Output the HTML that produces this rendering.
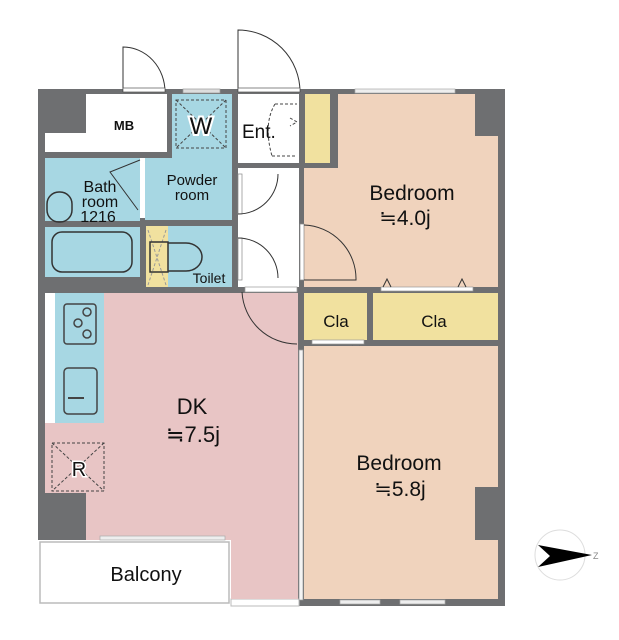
<!DOCTYPE html>
<html><head><meta charset="utf-8"><style>
html,body{margin:0;padding:0;background:#fff}
svg{display:block}
text{font-family:"Liberation Sans",sans-serif;fill:#111}
</style></head><body>
<svg width="619" height="640" viewBox="0 0 619 640" xmlns="http://www.w3.org/2000/svg">
<rect x="38" y="89" width="467" height="517" fill="#6e6f71"/>
<rect x="38" y="540" width="193" height="67" fill="#fff"/>
<rect x="40" y="542" width="189" height="61" fill="#fff" stroke="#bbb" stroke-width="1.5"/>
<rect x="231" y="599" width="68" height="7" fill="#fff" stroke="#bbb"/>
<!-- MB -->
<path d="M86 94 H167 V152 H45 V133 H86 Z" fill="#fff"/>
<text x="124" y="130" font-size="13" text-anchor="middle" font-weight="bold">MB</text>
<!-- powder room -->
<path d="M172 94 H232 V220 H145 V158 H172 Z" fill="#a7d7e3"/>
<rect x="176" y="100" width="50" height="48" fill="none" stroke="#444" stroke-dasharray="3,2"/>
<line x1="176" y1="100" x2="226" y2="148" stroke="#444" stroke-dasharray="3,2"/>
<line x1="226" y1="100" x2="176" y2="148" stroke="#444" stroke-dasharray="3,2"/>
<text x="201" y="134" font-size="24" text-anchor="middle" stroke="#fff" stroke-width="4" paint-order="stroke">W</text>
<text x="192" y="185" font-size="15" text-anchor="middle">Powder</text>
<text x="192" y="200" font-size="15" text-anchor="middle">room</text>
<!-- bath -->
<rect x="45" y="158" width="95" height="63" fill="#a7d7e3"/>
<rect x="45" y="227" width="95" height="50" fill="#a7d7e3"/>
<rect x="52" y="232" width="80" height="40" rx="10" fill="none" stroke="#333" stroke-width="1.5"/>
<rect x="47" y="192" width="25" height="30" rx="12" fill="none" stroke="#333" stroke-width="1.5"/>
<rect x="140" y="158" width="5" height="60" fill="#fff"/>
<path d="M140 160 L110 172 L138 210" fill="none" stroke="#333"/>
<text x="100" y="192" font-size="16" text-anchor="middle">Bath</text>
<text x="100" y="207" font-size="16" text-anchor="middle">room</text>
<text x="98" y="222" font-size="16" text-anchor="middle">1216</text>
<!-- toilet -->
<rect x="146" y="226" width="86" height="61" fill="#a7d7e3"/>
<rect x="146" y="226" width="22" height="61" fill="#f1e19f"/>
<path d="M148 230 L166 285 M166 230 L148 285" stroke="#999" stroke-dasharray="3,2"/>
<path d="M150 242 h18 v30 h-18 z M168 243 h18 a16 14 0 0 1 0 28 h-18" fill="none" stroke="#333" stroke-width="1.5"/>
<text x="209" y="283" font-size="14" text-anchor="middle">Toilet</text>
<!-- entry / hall -->
<rect x="238" y="94" width="61" height="69" fill="#fff"/>
<rect x="238" y="168" width="61" height="119" fill="#fff"/>
<path d="M275 104 q-12 20 -3 52 M275 104 h22 M272 156 h25 M290 118 l7 4 l-7 4" fill="none" stroke="#444" stroke-dasharray="3,2"/>
<text x="242" y="138" font-size="19">Ent.</text>
<rect x="238" y="174" width="4" height="40" fill="#fff" stroke="#888" stroke-width="0.7"/>
<path d="M238 214 a40 40 0 0 0 40 -40" fill="none" stroke="#333"/>
<rect x="238" y="238" width="4" height="42" fill="#fff" stroke="#888" stroke-width="0.7"/>
<path d="M238 238 a40 40 0 0 1 40 40" fill="none" stroke="#333"/>
<rect x="305" y="94" width="25" height="69" fill="#f1e19f"/>
<!-- bedroom 1 -->
<path d="M338 94 H475 V136 H498 V287 H304 V168 H338 Z" fill="#f0d3bd"/>
<rect x="300" y="224" width="4" height="56" fill="#fff" stroke="#888" stroke-width="0.7"/>
<path d="M304 225 a54 54 0 0 1 52 55 H304" fill="none" stroke="#333"/>
<rect x="355" y="89" width="100" height="4" fill="#eee" stroke="#aaa" stroke-width="0.7"/>
<text x="412" y="200" font-size="21" text-anchor="middle">Bedroom</text>
<text x="405" y="225" font-size="21" text-anchor="middle">≒4.0j</text>
<!-- closets -->
<rect x="304" y="293" width="63" height="47" fill="#f1e19f"/>
<rect x="373" y="293" width="125" height="47" fill="#f1e19f"/>
<rect x="381" y="287" width="92" height="4" fill="#fff" stroke="#999" stroke-width="0.7"/>
<path d="M383 287 l4 -8 l4 8 M458 287 l4 -8 l4 8" fill="none" stroke="#333"/>
<rect x="312" y="340" width="52" height="4" fill="#fff" stroke="#999" stroke-width="0.7"/>
<path d="M352 346 l4 8 l4 -8" fill="none" stroke="#333"/>
<text x="336" y="327" font-size="17" text-anchor="middle">Cla</text>
<text x="434" y="327" font-size="17" text-anchor="middle">Cla</text>
<!-- bedroom 2 -->
<path d="M304 346 H498 V487 H475 V540 H498 V599 H304 Z" fill="#f0d3bd"/>
<text x="399" y="470" font-size="21" text-anchor="middle">Bedroom</text>
<text x="400" y="496" font-size="21" text-anchor="middle">≒5.8j</text>
<rect x="340" y="600" width="40" height="4" fill="#eee" stroke="#aaa" stroke-width="0.7"/>
<rect x="400" y="600" width="45" height="4" fill="#eee" stroke="#aaa" stroke-width="0.7"/>
<!-- DK -->
<path d="M45 293 H298 V599 H231 V540 H86 V493 H45 Z" fill="#e8c5c5"/>
<rect x="45" y="293" width="10" height="130" fill="#fff"/>
<rect x="55" y="293" width="49" height="130" fill="#a7d7e3"/>
<rect x="64" y="304" width="32" height="40" rx="3" fill="none" stroke="#444" stroke-width="1.5"/>
<circle cx="87" cy="312" r="4" fill="none" stroke="#444" stroke-width="1.5"/>
<circle cx="78" cy="323" r="4" fill="none" stroke="#444" stroke-width="1.5"/>
<circle cx="87" cy="334" r="4" fill="none" stroke="#444" stroke-width="1.5"/>
<rect x="64" y="368" width="33" height="46" rx="4" fill="none" stroke="#444" stroke-width="1.5"/>
<line x1="68" y1="398" x2="84" y2="398" stroke="#444" stroke-width="2"/>
<rect x="52" y="443" width="52" height="48" fill="none" stroke="#444" stroke-dasharray="3,2"/>
<path d="M52 443 L104 491 M104 443 L52 491" stroke="#444" stroke-dasharray="3,2"/>
<text x="79" y="476" font-size="20" text-anchor="middle" stroke="#fff" stroke-width="3" paint-order="stroke">R</text>
<rect x="245" y="287" width="52" height="5" fill="#fff" stroke="#999" stroke-width="0.7"/>
<path d="M242 292 a55 55 0 0 0 55 52" fill="none" stroke="#333"/>
<rect x="299" y="350" width="4" height="250" fill="#f4f4f4" stroke="#999" stroke-width="0.7"/>
<rect x="100" y="536" width="125" height="4" fill="#eee" stroke="#aaa" stroke-width="0.7"/>
<text x="192" y="414" font-size="22" text-anchor="middle">DK</text>
<text x="193" y="442" font-size="22" text-anchor="middle">≒7.5j</text>
<text x="146" y="581" font-size="20" text-anchor="middle">Balcony</text>
<!-- top doors -->
<path d="M123 92 V47 a42 45 0 0 1 42 45" fill="none" stroke="#333"/>
<rect x="123" y="88" width="42" height="4" fill="#fff" stroke="#555" stroke-width="0.7"/>
<path d="M238 92 V30 a62 62 0 0 1 62 62" fill="none" stroke="#333"/>
<rect x="238" y="88" width="62" height="4" fill="#fff" stroke="#555" stroke-width="0.7"/>
<rect x="183" y="89" width="37" height="4" fill="#ddd" stroke="#999" stroke-width="0.7"/>
<!-- compass -->
<circle cx="560" cy="555" r="25" fill="none" stroke="#ddd"/>
<path d="M538 545 L592 555 L538 567 L550 556 Z" fill="#000"/>
<text x="593" y="559" font-size="9" style="fill:#888">Z</text>
</svg>
</body></html>
